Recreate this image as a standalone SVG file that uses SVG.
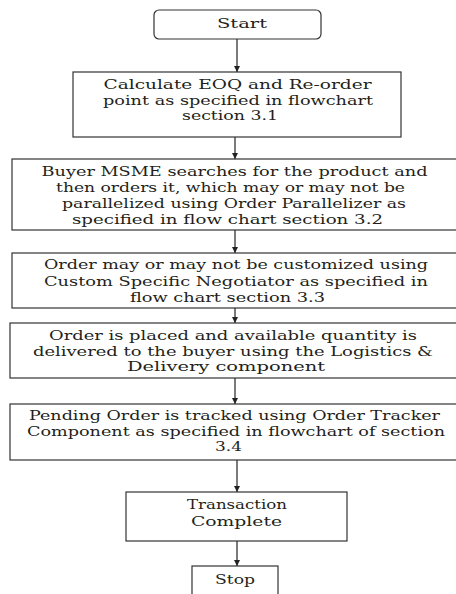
<svg xmlns="http://www.w3.org/2000/svg" width="456" height="594" viewBox="0 0 456 594">
<style>
.box{fill:#fff;stroke:#333;stroke-width:1.2}
.t{font-size:13.5px;fill:#241f1a;text-anchor:middle}
.c{stroke:#222;stroke-width:1.2;fill:none;marker-end:url(#ah)}
</style>
<defs>
<marker id="ah" viewBox="0 0 10 10" refX="10" refY="5" markerWidth="6" markerHeight="6" markerUnits="userSpaceOnUse" orient="auto">
<path d="M0,0 L10,5 L0,10 z" fill="#222"/>
</marker>
</defs>
<rect width="456" height="594" fill="#fff"/>
<g id="connectors">
<line class="c" x1="237" y1="39" x2="237" y2="72"/>
<line class="c" x1="235" y1="137" x2="235" y2="159"/>
<line class="c" x1="235" y1="230" x2="235" y2="253"/>
<line class="c" x1="235" y1="308" x2="235" y2="323"/>
<line class="c" x1="235" y1="378" x2="235" y2="404"/>
<line class="c" x1="237" y1="460" x2="237" y2="492"/>
<line class="c" x1="237" y1="541" x2="237" y2="566"/>
</g>
<g font-family="DejaVu Serif, Liberation Serif, serif">
<g id="start">
<rect class="box" x="154" y="10" width="167" height="29" rx="5"/>
<text class="t" x="242" y="28" textLength="50" lengthAdjust="spacingAndGlyphs">Start</text>
</g>
<g id="eoq">
<rect class="box" x="73" y="72" width="328" height="65"/>
<text class="t" x="237.5" y="89" textLength="268" lengthAdjust="spacingAndGlyphs">Calculate EOQ and Re-order</text>
<text class="t" x="238" y="104.5" textLength="270" lengthAdjust="spacingAndGlyphs">point as specified in flowchart</text>
<text class="t" x="230" y="120" textLength="96" lengthAdjust="spacingAndGlyphs">section 3.1</text>
</g>
<g id="search">
<rect class="box" x="12" y="159" width="450" height="71"/>
<text class="t" x="234.5" y="176" textLength="386" lengthAdjust="spacingAndGlyphs">Buyer MSME searches for the product and</text>
<text class="t" x="230.5" y="192" textLength="349" lengthAdjust="spacingAndGlyphs">then orders it, which may or may not be</text>
<text class="t" x="234" y="208" textLength="344" lengthAdjust="spacingAndGlyphs">parallelized using Order Parallelizer as</text>
<text class="t" x="227.5" y="224" textLength="311" lengthAdjust="spacingAndGlyphs">specified in flow chart section 3.2</text>
</g>
<g id="customize">
<rect class="box" x="12" y="253" width="450" height="55"/>
<text class="t" x="236" y="269" textLength="384" lengthAdjust="spacingAndGlyphs">Order may or may not be customized using</text>
<text class="t" x="236" y="285.5" textLength="384" lengthAdjust="spacingAndGlyphs">Custom Specific Negotiator as specified in</text>
<text class="t" x="227.5" y="302" textLength="195" lengthAdjust="spacingAndGlyphs">flow chart section 3.3</text>
</g>
<g id="deliver">
<rect class="box" x="10" y="323" width="452" height="55"/>
<text class="t" x="233" y="340" textLength="368" lengthAdjust="spacingAndGlyphs">Order is placed and available quantity is</text>
<text class="t" x="233" y="355.5" textLength="400" lengthAdjust="spacingAndGlyphs">delivered to the buyer using the Logistics &amp;</text>
<text class="t" x="226" y="371" textLength="198" lengthAdjust="spacingAndGlyphs">Delivery component</text>
</g>
<g id="track">
<rect class="box" x="10" y="404" width="452" height="56"/>
<text class="t" x="234.5" y="420" textLength="411" lengthAdjust="spacingAndGlyphs">Pending Order is tracked using Order Tracker</text>
<text class="t" x="236" y="435.5" textLength="418" lengthAdjust="spacingAndGlyphs">Component as specified in flowchart of section</text>
<text class="t" x="228.5" y="451" textLength="27" lengthAdjust="spacingAndGlyphs">3.4</text>
</g>
<g id="complete">
<rect class="box" x="126" y="492" width="221" height="49"/>
<text class="t" x="237" y="509" textLength="100" lengthAdjust="spacingAndGlyphs">Transaction</text>
<text class="t" x="236.5" y="526" textLength="91" lengthAdjust="spacingAndGlyphs">Complete</text>
</g>
<g id="stop">
<rect class="box" x="192" y="566" width="86" height="40"/>
<text class="t" x="235" y="584" textLength="40" lengthAdjust="spacingAndGlyphs">Stop</text>
</g>
</g>
</svg>
